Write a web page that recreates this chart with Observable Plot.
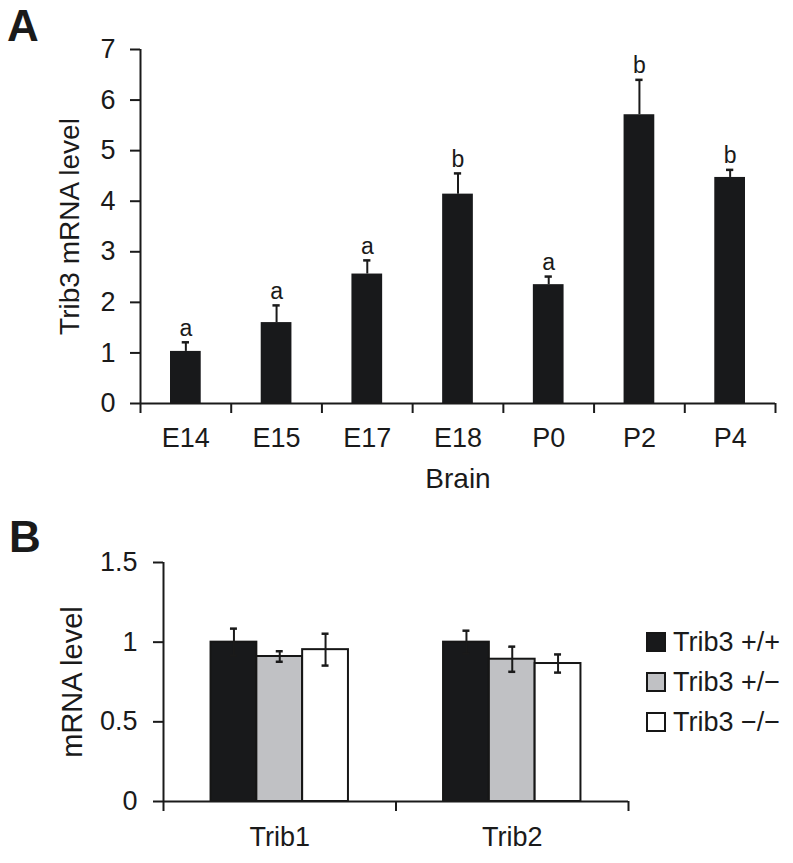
<!DOCTYPE html>
<html>
<head>
<meta charset="utf-8">
<script src="https://cdn.jsdelivr.net/npm/d3@7"></script>
<script src="https://cdn.jsdelivr.net/npm/@observablehq/plot@0.6"></script>
<style>
  html, body { margin: 0; padding: 0; background: #fff; }
  #wrap { position: relative; width: 793px; height: 863px; overflow: hidden; font-family: "Liberation Sans", Arial, sans-serif; color: #1a1a1a; }
  #panelA { position: absolute; left: 0; top: 0; }
  #panelB { position: absolute; left: 0; top: 505px; }
  .plabel { position: absolute; font-weight: bold; font-size: 44px; line-height: 44px; color: #1a1a1a; }
  #legend { position: absolute; left: 646px; top: 622px; }
  .lrow { display: flex; align-items: center; height: 40px; }
  .lsw { width: 20px; height: 20px; box-sizing: border-box; border: 2px solid #161616; margin-right: 7px; }
  .ltx { font-size: 27px; line-height: 40px; white-space: nowrap; }
</style>
</head>
<body>
<div id="wrap">
  <div id="panelA"></div>
  <div id="panelB"></div>
  <div class="plabel" style="left:7px; top:4px;">A</div>
  <div class="plabel" style="left:9px; top:515px;">B</div>
  <div id="legend"></div>
</div>
<script>
// ---------- Panel A data ----------
const stages = ["E14", "E15", "E17", "E18", "P0", "P2", "P4"];
const trib3Mean = [1.03, 1.60, 2.56, 4.14, 2.35, 5.71, 4.47];
const trib3Err = [0.18, 0.34, 0.27, 0.41, 0.16, 0.69, 0.15];
const sigLetters = ["a", "a", "a", "b", "a", "b", "b"];
const yTicksA = [0, 1, 2, 3, 4, 5, 6, 7];
const xTitleA = "Brain";
const yTitleA = "Trib3 mRNA level";

// ---------- Panel B data ----------
const genes = ["Trib1", "Trib2"];
const genotypes = ["Trib3 +/+", "Trib3 +/\u2212", "Trib3 \u2212/\u2212"];
const genotypeColors = ["#18191b", "#c0c1c4", "#ffffff"];
const wtMean = [1.00, 1.00];
const wtErr = [0.085, 0.072];
const hetMean = [0.91, 0.893];
const hetErr = [0.033, 0.079];
const koMean = [0.953, 0.866];
const koErr = [0.10, 0.057];
const yTicksB = [0, 0.5, 1, 1.5];
const yTitleB = "mRNA level";

const FONT = "Liberation Sans, Arial, sans-serif";
const INK = "#1a1a1a";

// ---------- Panel A ----------
const dataA = stages.map((s, i) => ({stage: s, i, mean: trib3Mean[i], err: trib3Err[i], letter: sigLetters[i]}));
const capA = 0.04;

const plotA = Plot.plot({
  width: 793, height: 505,
  marginLeft: 140, marginRight: 18, marginTop: 49, marginBottom: 102,
  style: {fontFamily: FONT, fontSize: "26px", color: INK, background: "transparent", overflow: "visible"},
  x: {type: "linear", domain: [0, stages.length]},
  y: {domain: [0, 7]},
  marks: [
    Plot.rectY(dataA, {x1: d => d.i, x2: d => d.i + 1, y: "mean", insetLeft: 30, insetRight: 30, fill: "#18191b"}),
    Plot.ruleX(dataA, {x: d => d.i + 0.5, y1: "mean", y2: d => d.mean + d.err, stroke: INK, strokeWidth: 2}),
    Plot.ruleY(dataA, {y: d => d.mean + d.err, x1: d => d.i + 0.5 - capA, x2: d => d.i + 0.5 + capA, stroke: INK, strokeWidth: 2.5}),
    Plot.text(dataA, {x: d => d.i + 0.5, y: d => d.mean + d.err, text: "letter", dy: -14, fontSize: 23, fill: INK}),
    Plot.axisY({ticks: yTicksA, tickSize: 10, tickPadding: 15, tickFormat: d => String(d), fontSize: 27, label: null, stroke: INK, strokeWidth: 2, fill: INK}),
    Plot.axisX({ticks: d3.range(0, stages.length + 1), tickSize: 10, tickFormat: () => "", label: null, stroke: INK, strokeWidth: 2}),
    Plot.axisX({ticks: stages.map((s, i) => i + 0.5), tickSize: 0, tickPadding: 24, tickFormat: v => stages[Math.floor(v)], fontSize: 27, label: null, fill: INK}),
    Plot.ruleX([0], {stroke: INK, strokeWidth: 2}),
    Plot.ruleY([0], {stroke: INK, strokeWidth: 2}),
    Plot.text([xTitleA], {frameAnchor: "bottom", textAnchor: "middle", dy: 84, fontSize: 28, fill: INK}),
    Plot.text([yTitleA], {frameAnchor: "left", textAnchor: "middle", dx: -70, rotate: -90, fontSize: 28, fill: INK})
  ]
});
document.getElementById("panelA").appendChild(plotA);

// ---------- Panel B ----------
const barW = 0.197;
const capB = 0.015;
const meansB = [wtMean, hetMean, koMean];
const errsB = [wtErr, hetErr, koErr];
const dataB = [];
genes.forEach((g, gi) => {
  genotypes.forEach((t, j) => {
    const x1 = gi + 0.5 + (j - 1.5) * barW;
    dataB.push({gene: g, genotype: t, x1, x2: x1 + barW, xc: x1 + barW / 2, mean: meansB[j][gi], err: errsB[j][gi]});
  });
});

const plotB = Plot.plot({
  width: 793, height: 358,
  marginLeft: 163, marginRight: 165, marginTop: 57, marginBottom: 62,
  style: {fontFamily: FONT, fontSize: "26px", color: INK, background: "transparent", overflow: "visible"},
  x: {type: "linear", domain: [0, genes.length]},
  y: {domain: [0, 1.5]},
  color: {domain: genotypes, range: genotypeColors},
  marks: [
    Plot.rectY(dataB, {x1: "x1", x2: "x2", y: "mean", fill: "genotype", stroke: "#161616", strokeWidth: 2}),
    Plot.ruleX(dataB, {x: "xc", y1: d => d.mean - d.err, y2: d => d.mean + d.err, stroke: INK, strokeWidth: 2}),
    Plot.ruleY(dataB, {y: d => d.mean + d.err, x1: d => d.xc - capB, x2: d => d.xc + capB, stroke: INK, strokeWidth: 2.5}),
    Plot.ruleY(dataB, {y: d => d.mean - d.err, x1: d => d.xc - capB, x2: d => d.xc + capB, stroke: INK, strokeWidth: 2.5}),
    Plot.axisY({ticks: yTicksB, tickSize: 10, tickPadding: 16, tickFormat: d => String(d), fontSize: 27, label: null, stroke: INK, strokeWidth: 2, fill: INK}),
    Plot.axisX({ticks: d3.range(0, genes.length + 1), tickSize: 10, tickFormat: () => "", label: null, stroke: INK, strokeWidth: 2}),
    Plot.axisX({ticks: genes.map((g, i) => i + 0.5), tickSize: 0, tickPadding: 25, tickFormat: v => genes[Math.floor(v)], fontSize: 27, label: null, fill: INK}),
    Plot.ruleX([0], {stroke: INK, strokeWidth: 2}),
    Plot.ruleY([0], {stroke: INK, strokeWidth: 2}),
    Plot.text([yTitleB], {frameAnchor: "left", textAnchor: "middle", dx: -91, rotate: -90, fontSize: 29, fill: INK})
  ]
});
document.getElementById("panelB").appendChild(plotB);

// ---------- Legend ----------
const legend = document.getElementById("legend");
genotypes.forEach((g, j) => {
  const row = document.createElement("div");
  row.className = "lrow";
  const sw = document.createElement("div");
  sw.className = "lsw";
  sw.style.background = genotypeColors[j];
  const tx = document.createElement("div");
  tx.className = "ltx";
  tx.textContent = g;
  row.appendChild(sw);
  row.appendChild(tx);
  legend.appendChild(row);
});
</script>
</body>
</html>
